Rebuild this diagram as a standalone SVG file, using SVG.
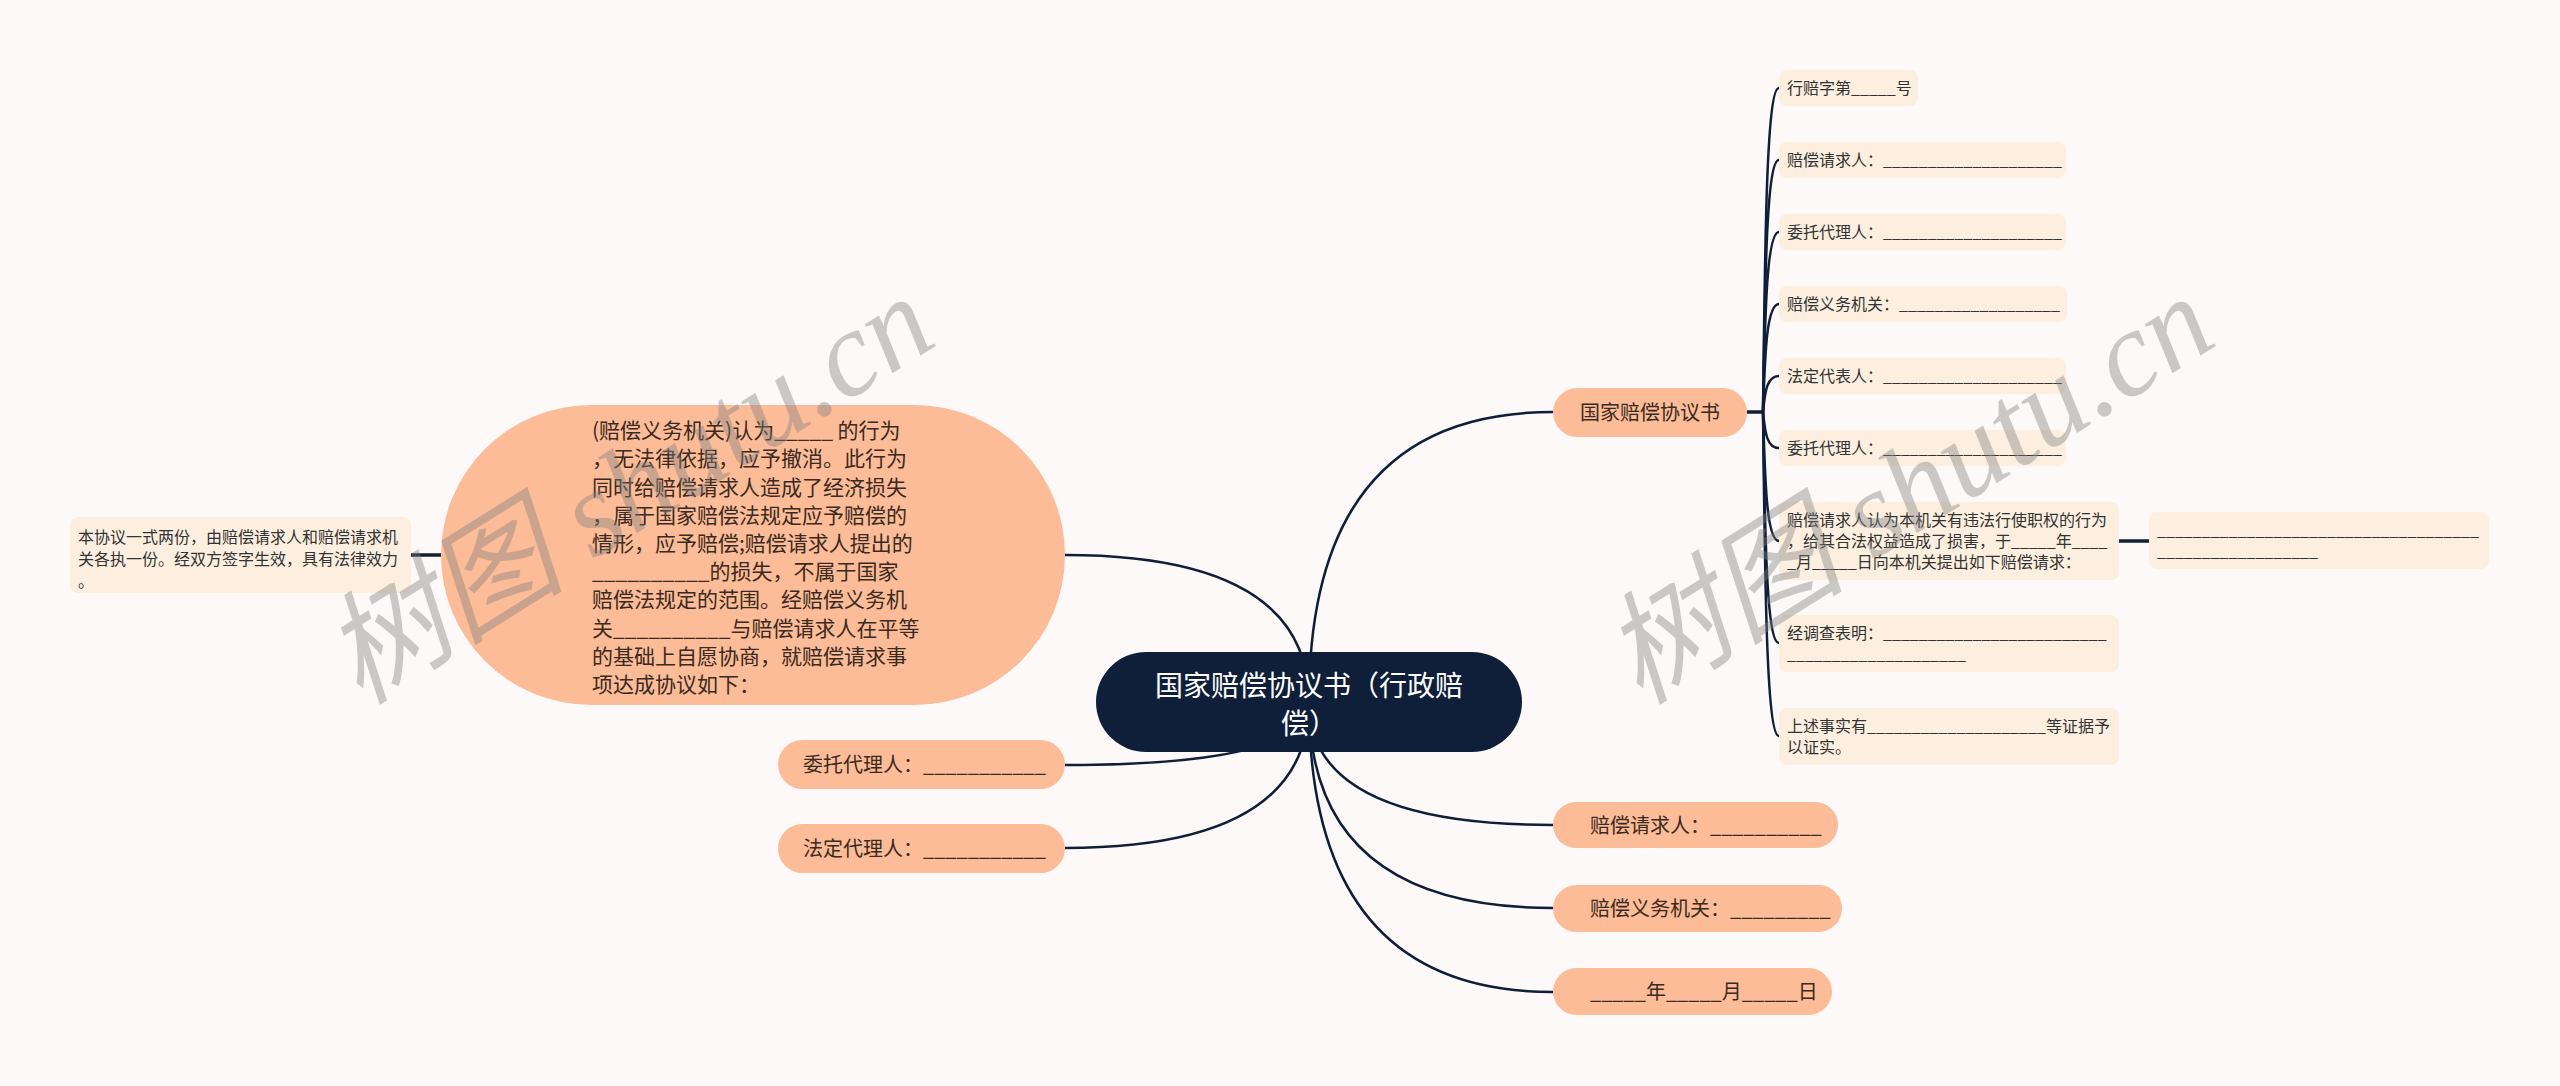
<svg xmlns="http://www.w3.org/2000/svg" width="2560" height="1086" viewBox="0 0 2560 1086">
<style>
.bg{fill:#fdf9f8}
.peach{fill:#fcbc98}
.light{fill:#fdefdf}
.root{fill:#0f1f3a}
.t{font-family:"Noto Sans CJK SC","Noto Sans",sans-serif;fill:#3b2a20}
.tl{font-family:"Noto Sans CJK SC","Noto Sans",sans-serif;fill:#333333;font-size:16px}
.tw{font-family:"Noto Sans CJK SC","Noto Sans",sans-serif;fill:#ffffff;font-size:28px}
.c{fill:none;stroke:#0f1f3a;stroke-width:2.5}
.cs{fill:none;stroke:#0f1f3a;stroke-width:3.5}
.wm{font-family:"Liberation Serif","Noto Sans CJK SC",serif;font-style:italic;font-size:122px;fill:#808080;opacity:0.4}
</style>
<rect class="bg" x="0" y="0" width="2560" height="1086"/>
<g id="connectors">
<path class="c" d="M1309 702 Q1309 412 1553 412"/>
<path class="c" d="M1309 702 Q1309 555 1065 555"/>
<path class="c" d="M1309 702 Q1309 765 1065 765"/>
<path class="c" d="M1309 702 Q1309 848 1065 848"/>
<path class="c" d="M1309 702 Q1309 825 1553 825"/>
<path class="c" d="M1309 702 Q1309 908 1553 908"/>
<path class="c" d="M1309 702 Q1309 992 1553 992"/>
<path class="cs" d="M441 555 H411"/>
<path class="cs" d="M1747 412 H1764"/>
<path class="c" d="M1763 412 C1765 250 1766 88 1779 88"/>
<path class="c" d="M1763 412 C1765 286 1766 160 1779 160"/>
<path class="c" d="M1763 412 C1765 322 1766 232 1779 232"/>
<path class="c" d="M1763 412 C1765 358 1766 304 1779 304"/>
<path class="c" d="M1763 412 C1765 394 1766 376 1779 376"/>
<path class="c" d="M1763 412 C1765 430 1766 448 1779 448"/>
<path class="c" d="M1763 412 C1765 476 1766 541 1779 541"/>
<path class="c" d="M1763 412 C1765 528 1766 643 1779 643"/>
<path class="c" d="M1763 412 C1765 574 1766 736 1779 736"/>
<path class="cs" d="M2119 541 H2149"/>
</g>
<g id="root">
<rect class="root" x="1096" y="652" width="426" height="100" rx="50"/>
<text class="tw" x="1309" y="696" text-anchor="middle">国家赔偿协议书（行政赔</text>
<text class="tw" x="1309" y="734" text-anchor="middle">偿）</text>
</g>
<g id="n-big">
<rect class="peach" x="441" y="405" width="624" height="300" rx="150"/>
<g class="t" font-size="21">
<text x="592" y="438">(赔偿义务机关)认为_____ 的行为</text>
<text x="592" y="466">，无法律依据，应予撤消。此行为</text>
<text x="592" y="494.5">同时给赔偿请求人造成了经济损失</text>
<text x="592" y="522.5">，属于国家赔偿法规定应予赔偿的</text>
<text x="592" y="551">情形，应予赔偿;赔偿请求人提出的</text>
<text x="592" y="579">__________的损失，不属于国家</text>
<text x="592" y="607">赔偿法规定的范围。经赔偿义务机</text>
<text x="592" y="635.5">关__________与赔偿请求人在平等</text>
<text x="592" y="663.5">的基础上自愿协商，就赔偿请求事</text>
<text x="592" y="692">项达成协议如下：</text>
</g>
</g>
<g id="n-note">
<rect class="light" x="70" y="517" width="341" height="76" rx="8"/>
<text class="tl" x="78" y="543">本协议一式两份，由赔偿请求人和赔偿请求机</text>
<text class="tl" x="78" y="565">关各执一份。经双方签字生效，具有法律效力</text>
<text class="tl" x="78" y="587">。</text>
</g>
<g id="n-agent-l">
<rect class="peach" x="778" y="740" width="287" height="49" rx="24.5"/>
<text class="t" font-size="20" x="803" y="772">委托代理人：___________</text>
</g>
<g id="n-legal-l">
<rect class="peach" x="778" y="824" width="287" height="49" rx="24.5"/>
<text class="t" font-size="20" x="803" y="856">法定代理人：___________</text>
</g>
<g id="n-agreement">
<rect class="peach" x="1553" y="388" width="194" height="49" rx="24.5"/>
<text class="t" font-size="20" x="1650" y="420" text-anchor="middle">国家赔偿协议书</text>
</g>
<g id="n-claimant-b">
<rect class="peach" x="1553" y="802" width="285" height="46" rx="23"/>
<text class="t" font-size="20" x="1590" y="833">赔偿请求人：__________</text>
</g>
<g id="n-organ-b">
<rect class="peach" x="1553" y="885" width="289" height="47" rx="23.5"/>
<text class="t" font-size="20" x="1590" y="916">赔偿义务机关：_________</text>
</g>
<g id="n-date">
<rect class="peach" x="1553" y="968" width="279" height="47" rx="23.5"/>
<text class="t" font-size="20" x="1590" y="999">_____年_____月_____日</text>
</g>
<g id="l1">
<rect class="light" x="1779" y="70" width="139" height="36" rx="8"/>
<text class="tl" x="1787" y="94">行赔字第_____号</text>
</g>
<g id="l2">
<rect class="light" x="1779" y="142" width="287" height="36" rx="8"/>
<text class="tl" x="1787" y="166">赔偿请求人：____________________</text>
</g>
<g id="l3">
<rect class="light" x="1779" y="214" width="287" height="36" rx="8"/>
<text class="tl" x="1787" y="238">委托代理人：____________________</text>
</g>
<g id="l4">
<rect class="light" x="1779" y="286" width="288" height="36" rx="8"/>
<text class="tl" x="1787" y="310">赔偿义务机关：__________________</text>
</g>
<g id="l5">
<rect class="light" x="1779" y="358" width="287" height="36" rx="8"/>
<text class="tl" x="1787" y="382">法定代表人：____________________</text>
</g>
<g id="l6">
<rect class="light" x="1779" y="430" width="287" height="36" rx="8"/>
<text class="tl" x="1787" y="454">委托代理人：____________________</text>
</g>
<g id="l7">
<rect class="light" x="1779" y="502" width="340" height="78" rx="8"/>
<text class="tl" x="1787" y="526">赔偿请求人认为本机关有违法行使职权的行为</text>
<text class="tl" x="1787" y="547">，给其合法权益造成了损害，于_____年____</text>
<text class="tl" x="1787" y="568">_月_____日向本机关提出如下赔偿请求：</text>
</g>
<g id="l7-child">
<rect class="light" x="2149" y="512" width="340" height="57" rx="8"/>
<text class="tl" x="2157" y="536">____________________________________</text>
<text class="tl" x="2157" y="557">__________________</text>
</g>
<g id="l8">
<rect class="light" x="1779" y="615" width="340" height="57" rx="8"/>
<text class="tl" x="1787" y="639">经调查表明：_________________________</text>
<text class="tl" x="1787" y="660">____________________</text>
</g>
<g id="l9">
<rect class="light" x="1779" y="708" width="340" height="57" rx="8"/>
<text class="tl" x="1787" y="732">上述事实有____________________等证据予</text>
<text class="tl" x="1787" y="753">以证实。</text>
</g>
<g id="watermarks">
<text class="wm" transform="translate(360,706) rotate(-32)">树图 shutu.cn</text>
<text class="wm" transform="translate(1640,706) rotate(-32)">树图 shutu.cn</text>
</g>
</svg>
